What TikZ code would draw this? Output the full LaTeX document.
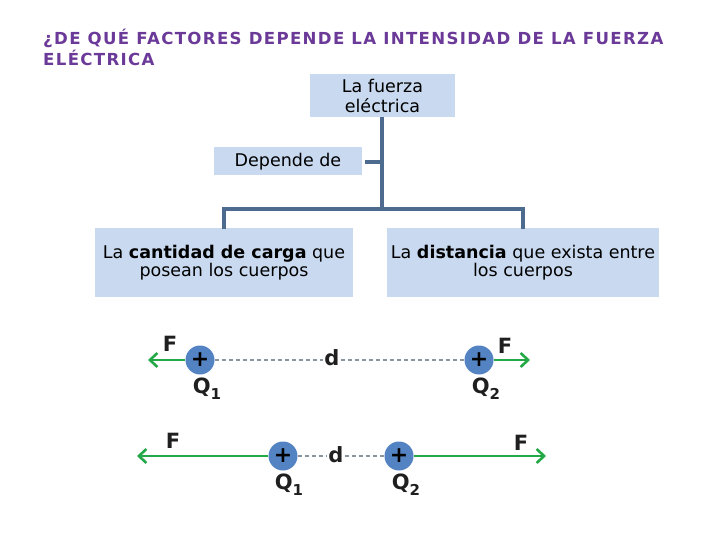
\documentclass[tikz,border=0pt]{standalone}
\usepackage{fontspec}
\setmainfont{DejaVu Sans}
\newfontfamily\titlefont{DejaVu Sans}[LetterSpace=8]
\usetikzlibrary{arrows.meta}
\definecolor{titlePurple}{HTML}{6B3A99}
\definecolor{boxBlue}{HTML}{C9DAF0}
\definecolor{treeBlue}{HTML}{4D6B8F}
\definecolor{chargeBlue}{HTML}{5383C3}
\definecolor{forceGreen}{HTML}{25A848}
\definecolor{dashGray}{HTML}{8A949E}
\newcommand{\qsub}[1]{Q\raisebox{-6pt}{\fontsize{15}{15}\selectfont #1}}
\tikzset{
  conceptbox/.style={fill=boxBlue, align=center, inner sep=0pt, font=\fontsize{17.5}{18.5}\selectfont},
  treeline/.style={draw=treeBlue, line width=3.5pt},
  charge/.style={circle, fill=chargeBlue, minimum size=29pt, inner sep=0pt, font=\bfseries\fontsize{22}{22}\selectfont},
  forcearrow/.style={draw=forceGreen, line width=2.8pt, -{Straight Barb[length=7.5pt,width=14pt,line width=2.6pt]}},
  sep/.style={draw=dashGray, dash pattern=on 4pt off 3pt, line width=1.3pt},
  tag/.style={font=\bfseries\fontsize{21}{21}\selectfont, text=black!88, inner sep=1pt}
}
\begin{document}
\begin{tikzpicture}[x=1pt,y=-1pt]
  \useasboundingbox (0,0) rectangle (720,540);
  % title
  \node[anchor=base west, align=left, text=titlePurple, inner sep=0pt,
        font=\titlefont\bfseries\fontsize{16.6}{20.5}\selectfont] (title) at (43,65.5)
        {¿DE QUÉ FACTORES DEPENDE LA INTENSIDAD DE LA FUERZA\\ELÉCTRICA};
  % concept tree
  \node[conceptbox, minimum width=145pt, minimum height=43pt,
        font=\fontsize{17.5}{20}\selectfont] (fuerza) at (382.5,95.5) {La fuerza\\eléctrica};
  \node[conceptbox, minimum width=148pt, minimum height=28pt] (depende) at (288,161.5) {Depende de};
  \node[conceptbox, minimum width=258pt, minimum height=69pt] (carga) at (224,262.5)
        {La \textbf{cantidad de carga} que\\posean los cuerpos};
  \node[conceptbox, minimum width=272pt, minimum height=69pt] (distancia) at (523,262.5)
        {La \textbf{distancia} que exista entre\\los cuerpos};
  \coordinate (join) at (382,209);
  \coordinate (joinL) at (224,209);
  \coordinate (joinR) at (523,209);
  \coordinate (stub) at (365,162);
  \draw[treeline] (fuerza.south -| join) -- (join);
  \draw[treeline] (stub) -- (stub -| join);
  \draw[treeline] ([yshift=-1pt]carga.north -| joinL) -- (joinL) -- (joinR) -- ([yshift=-1pt]distancia.north -| joinR);
  % charges far apart
  \node[charge] (qa) at (200,360) {+};
  \node[charge] (qb) at (479,360) {+};
  \node[tag] (da) at (332,358) {d};
  \draw[sep] (qa.east) -- (qa.east -| da.west);
  \draw[sep] (qb.west -| da.east) -- (qb.west);
  \coordinate (fa) at (148,360);
  \coordinate (fb) at (530,360);
  \draw[forcearrow] (qa.west) -- (fa);
  \draw[forcearrow] (qb.east) -- (fb);
  \node[tag] (Fa) at (170,344) {F};
  \node[tag] (Fb) at (505,346) {F};
  \node[tag] (Qa) at (207,389) {\qsub{1}};
  \node[tag] (Qb) at (486,389) {\qsub{2}};
  % charges close together
  \node[charge] (qc) at (283,456) {+};
  \node[charge] (qd) at (399,456) {+};
  \node[tag] (db) at (336,455) {d};
  \draw[sep] (qc.east) -- (qc.east -| db.west);
  \draw[sep] (qd.west -| db.east) -- (qd.west);
  \coordinate (fc) at (137,456);
  \coordinate (fd) at (546,456);
  \draw[forcearrow] (qc.west) -- (fc);
  \draw[forcearrow] (qd.east) -- (fd);
  \node[tag] (Fc) at (173,441) {F};
  \node[tag] (Fd) at (521,443) {F};
  \node[tag] (Qc) at (289,485) {\qsub{1}};
  \node[tag] (Qd) at (406,485) {\qsub{2}};
\end{tikzpicture}
\end{document}
